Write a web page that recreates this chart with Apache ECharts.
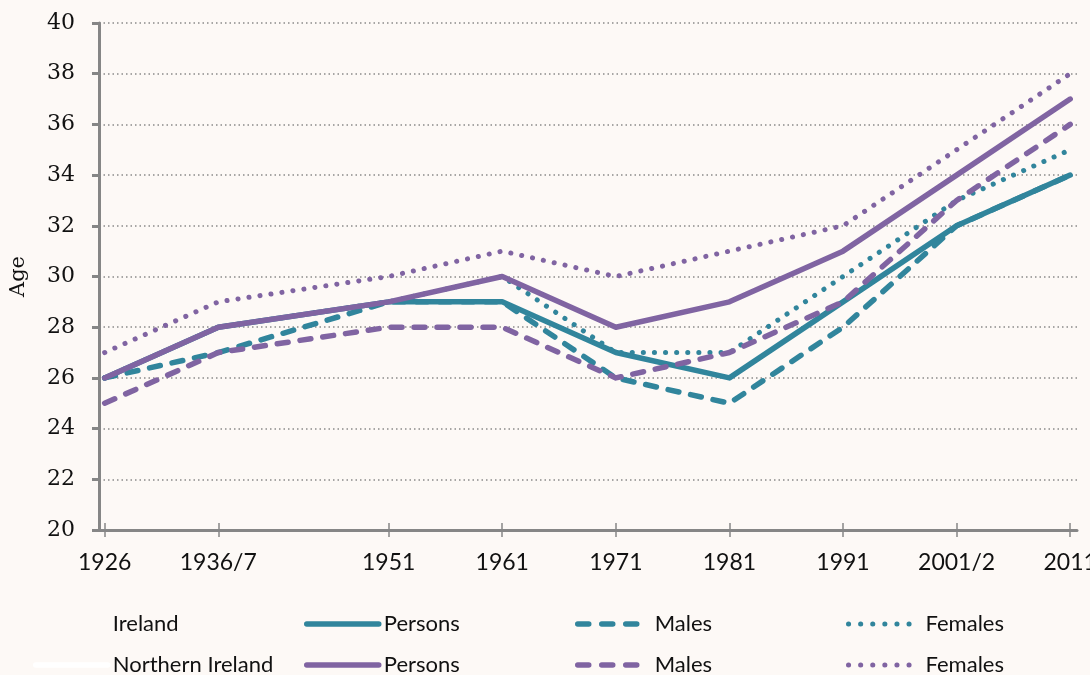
<!DOCTYPE html>
<html>
<head>
<meta charset="utf-8">
<script src="https://cdn.jsdelivr.net/npm/echarts@6/dist/echarts.min.js"></script>
<style>
  html, body { margin: 0; padding: 0; background: #fdf9f6; }
  #chart { width: 1090px; height: 675px; }
</style>
</head>
<body>
<div id="chart"></div>
<script>
// census years (x values) and their labels
var years = [1926, 1936, 1951, 1961, 1971, 1981, 1991, 2001, 2011];
var yearLabels = ['1926', '1936/7', '1951', '1961', '1971', '1981', '1991', '2001/2', '2011'];

// median age, Ireland
var irlPersons = [26, 28, 29, 29, 27, 26, 29, 32, 34];
var irlMales   = [26, 27, 29, 29, 26, 25, 28, 32, 34];
var irlFemales = [26, 28, 29, 30, 27, 27, 30, 33, 35];

// median age, Northern Ireland
var niPersons = [26, 28, 29, 30, 28, 29, 31, 34, 37];
var niMales   = [25, 27, 28, 28, 26, 27, 29, 33, 36];
var niFemales = [27, 29, 30, 31, 30, 31, 32, 35, 38];

var TEAL = '#31859c';
var PURPLE = '#8064a2';
var sans = 'Lato, sans-serif';
var serif = '"DejaVu Serif", serif';

var myChart = echarts.init(document.getElementById('chart'));

function pairs(vals) {
    var out = [];
    for (var i = 0; i < years.length; i++) {
        out.push([years[i], vals[i]]);
    }
    return out;
}

function styleFor(color, kind) {
    var ls = { color: color, width: 5.5, cap: 'round', join: 'round', type: 'solid' };
    if (kind == 'dash') {
        ls.type = [11, 12];
    } else if (kind == 'dot') {
        ls.type = [0.1, 11];
        ls.width = 5;
    }
    return ls;
}

function lineSeries(name, vals, color, kind) {
    return {
        name: name,
        type: 'line',
        data: pairs(vals),
        symbol: 'none',
        color: color,
        lineStyle: styleFor(color, kind),
        emphasis: { disabled: true },
        silent: true,
        animation: false
    };
}

function legendAt(name, label, left, top, color, kind) {
    var ls = styleFor(color, kind);
    if (kind == 'dash') ls.type = [11, 13];
    if (kind == 'dot') ls.type = [0.1, 12];
    return {
        data: [name],
        left: left,
        top: top,
        padding: 0,
        itemWidth: 72,
        itemHeight: 14,
        selectedMode: false,
        formatter: label,
        itemStyle: { opacity: 0 },
        lineStyle: ls,
        textStyle: { fontFamily: sans, fontSize: 22, color: '#111' }
    };
}

var labelMap = {};
for (var i = 0; i < years.length; i++) labelMap[years[i]] = yearLabels[i];

var option = {
    backgroundColor: '#fdf9f6',
    animation: false,
    grid: { left: 99, right: 13, top: 23, bottom: 145, containLabel: false, outerBoundsMode: 'none' },
    xAxis: [{
        type: 'value',
        min: 1925.5,
        max: 2011.6,
        axisLine: { show: true, lineStyle: { color: '#868686', width: 3 } },
        axisTick: { show: true, customValues: years, length: 7, lineStyle: { color: '#868686', width: 1.5 } },
        axisLabel: {
            customValues: years,
            formatter: function (v) { return labelMap[v] || ''; },
            margin: 21,
            fontFamily: sans,
            fontSize: 23,
            color: '#111'
        },
        splitLine: { show: false }
    }, {
        type: 'value',
        position: 'bottom',
        min: 1925.5,
        max: 2011.6,
        axisLine: { show: false },
        axisTick: { show: true, inside: true, customValues: years, length: 7, lineStyle: { color: '#868686', width: 1.5 } },
        axisLabel: { show: false },
        splitLine: { show: false }
    }],
    yAxis: {
        type: 'value',
        min: 20,
        max: 40,
        interval: 2,
        name: 'Age',
        nameLocation: 'middle',
        nameGap: 70,
        nameMoveOverlap: false,
        nameTextStyle: { fontFamily: serif, fontSize: 21, color: '#111' },
        axisLine: { show: true, lineStyle: { color: '#868686', width: 3 } },
        axisTick: { show: true, length: 7, lineStyle: { color: '#868686', width: 3 } },
        axisLabel: { margin: 24, fontFamily: serif, fontSize: 22, color: '#111' },
        splitLine: { show: true, lineStyle: { color: '#8a8a8a', width: 1.5, type: [1.5, 3] } }
    },
    legend: [
        legendAt('Ireland', 'Ireland', 33, 613, 'rgba(255,255,255,0)', 'solid'),
        legendAt('Ireland Persons', 'Persons', 304, 613, TEAL, 'solid'),
        legendAt('Ireland Males', 'Males', 575, 613, TEAL, 'dash'),
        legendAt('Ireland Females', 'Females', 846, 613, TEAL, 'dot'),
        legendAt('Northern Ireland', 'Northern Ireland', 33, 654, '#ffffff', 'solid'),
        legendAt('NI Persons', 'Persons', 304, 654, PURPLE, 'solid'),
        legendAt('NI Males', 'Males', 575, 654, PURPLE, 'dash'),
        legendAt('NI Females', 'Females', 846, 654, PURPLE, 'dot')
    ],
    series: [
        { name: 'Ireland', type: 'line', data: [], symbol: 'none', color: 'rgba(255,255,255,0)', lineStyle: { width: 5, color: 'rgba(255,255,255,0)' } },
        { name: 'Northern Ireland', type: 'line', data: [], symbol: 'none', color: '#ffffff', lineStyle: { width: 5, color: '#ffffff' } },
        lineSeries('Ireland Persons', irlPersons, TEAL, 'solid'),
        lineSeries('Ireland Males', irlMales, TEAL, 'dash'),
        lineSeries('Ireland Females', irlFemales, TEAL, 'dot'),
        lineSeries('NI Persons', niPersons, PURPLE, 'solid'),
        lineSeries('NI Males', niMales, PURPLE, 'dash'),
        lineSeries('NI Females', niFemales, PURPLE, 'dot')
    ]
};

myChart.setOption(option);
</script>
</body>
</html>
